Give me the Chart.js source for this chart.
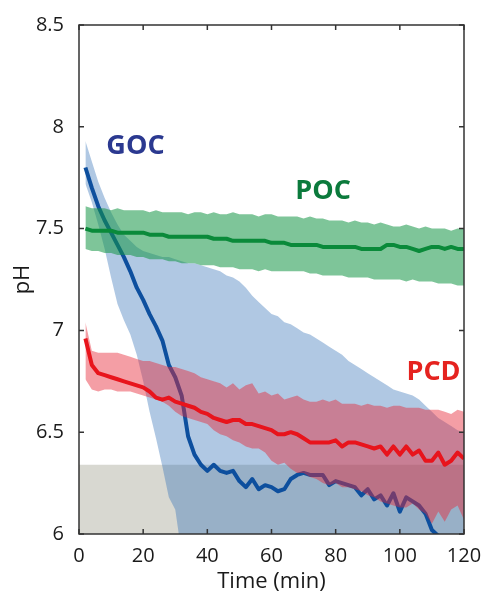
<!DOCTYPE html>
<html>
<head>
<meta charset="utf-8">
<script src="https://cdn.jsdelivr.net/npm/chart.js@4.4.0/dist/chart.umd.min.js"></script>
<style>
  body { margin: 0; background: #fff; }
  .wrap { width: 484px; height: 595px; }
</style>
</head>
<body>
<div class="wrap"><canvas id="ph-chart"></canvas></div>
<script>
// time axis (min), one sample every 2 minutes
const times = [2, 4, 6, 8, 10, 12, 14, 16, 18, 20,
  22, 24, 26, 28, 30, 32, 34, 36, 38, 40,
  42, 44, 46, 48, 50, 52, 54, 56, 58, 60,
  62, 64, 66, 68, 70, 72, 74, 76, 78, 80,
  82, 84, 86, 88, 90, 92, 94, 96, 98, 100,
  102, 104, 106, 108, 110, 112, 114, 116, 118, 120];

// GOC
const gocMean = [7.80, 7.70, 7.61, 7.54, 7.48, 7.42, 7.36, 7.29, 7.21, 7.15,
  7.08, 7.02, 6.95, 6.83, 6.77, 6.68, 6.48, 6.39, 6.34, 6.31,
  6.34, 6.31, 6.30, 6.31, 6.26, 6.23, 6.27, 6.22, 6.24, 6.23,
  6.21, 6.22, 6.27, 6.29, 6.30, 6.29, 6.29, 6.29, 6.24, 6.26,
  6.25, 6.24, 6.23, 6.19, 6.22, 6.17, 6.19, 6.14, 6.20, 6.11,
  6.18, 6.16, 6.14, 6.10, 6.02, 5.99, null, null, null, null];
const gocUpper = [7.93, 7.83, 7.73, 7.65, 7.58, 7.52, 7.47, 7.44, 7.41, 7.39,
  7.38, 7.37, 7.36, 7.36, 7.35, 7.34, 7.33, 7.33, 7.32, 7.31,
  7.30, 7.29, 7.27, 7.26, 7.24, 7.21, 7.17, 7.14, 7.11, 7.08,
  7.07, 7.04, 7.03, 7.01, 6.99, 6.98, 6.96, 6.94, 6.92, 6.90,
  6.88, 6.85, 6.83, 6.81, 6.79, 6.77, 6.75, 6.73, 6.71, 6.70,
  6.69, 6.68, 6.66, 6.63, 6.60, 6.57, 6.55, 6.53, 6.51, 6.50];
const gocLower = [7.72, 7.63, 7.52, 7.40, 7.26, 7.13, 7.05, 6.98, 6.88, 6.75,
  6.60, 6.47, 6.33, 6.18, 6.12, 5.90, 5.82, 5.78, 5.75, 5.72,
  5.70, 5.68, 5.66, 5.65, 5.64, 5.62, 5.61, 5.60, 5.60, 5.59,
  5.58, 5.57, 5.57, 5.56, 5.55, 5.55, 5.54, 5.54, 5.53, 5.53,
  5.52, 5.52, 5.51, 5.51, 5.50, 5.50, 5.50, 5.49, 5.49, 5.48,
  5.48, 5.48, 5.47, 5.47, 5.46, 5.46, 5.46, 5.45, 5.45, 5.45];

// POC
const pocMean = [7.50, 7.49, 7.49, 7.49, 7.49, 7.48, 7.48, 7.48, 7.48, 7.48,
  7.47, 7.47, 7.47, 7.46, 7.46, 7.46, 7.46, 7.46, 7.46, 7.46,
  7.45, 7.45, 7.45, 7.44, 7.44, 7.44, 7.44, 7.44, 7.44, 7.43,
  7.43, 7.43, 7.42, 7.42, 7.42, 7.42, 7.42, 7.41, 7.41, 7.41,
  7.41, 7.41, 7.41, 7.40, 7.40, 7.40, 7.40, 7.42, 7.42, 7.41,
  7.41, 7.40, 7.39, 7.40, 7.41, 7.41, 7.40, 7.41, 7.40, 7.40];
const pocUpper = [7.61, 7.60, 7.60, 7.60, 7.59, 7.60, 7.59, 7.59, 7.59, 7.59,
  7.58, 7.59, 7.58, 7.58, 7.58, 7.58, 7.57, 7.58, 7.58, 7.57,
  7.58, 7.57, 7.57, 7.58, 7.57, 7.57, 7.57, 7.56, 7.57, 7.57,
  7.56, 7.56, 7.56, 7.56, 7.55, 7.56, 7.55, 7.55, 7.54, 7.54,
  7.54, 7.53, 7.54, 7.53, 7.53, 7.52, 7.53, 7.52, 7.51, 7.51,
  7.52, 7.51, 7.50, 7.51, 7.50, 7.50, 7.50, 7.49, 7.50, 7.50];
const pocLower = [7.40, 7.39, 7.39, 7.38, 7.38, 7.37, 7.37, 7.37, 7.36, 7.36,
  7.35, 7.35, 7.35, 7.34, 7.34, 7.33, 7.33, 7.33, 7.32, 7.32,
  7.32, 7.31, 7.31, 7.31, 7.30, 7.30, 7.30, 7.29, 7.30, 7.29,
  7.29, 7.29, 7.29, 7.29, 7.29, 7.28, 7.28, 7.27, 7.27, 7.27,
  7.27, 7.26, 7.26, 7.26, 7.26, 7.25, 7.25, 7.25, 7.25, 7.25,
  7.24, 7.25, 7.24, 7.24, 7.24, 7.23, 7.23, 7.23, 7.22, 7.22];

// PCD
const pcdMean = [6.96, 6.83, 6.79, 6.78, 6.77, 6.76, 6.75, 6.74, 6.73, 6.72,
  6.70, 6.67, 6.66, 6.67, 6.65, 6.64, 6.63, 6.62, 6.60, 6.59,
  6.57, 6.56, 6.55, 6.56, 6.56, 6.54, 6.54, 6.53, 6.52, 6.51,
  6.49, 6.49, 6.50, 6.49, 6.47, 6.45, 6.45, 6.45, 6.45, 6.46,
  6.43, 6.45, 6.45, 6.44, 6.43, 6.42, 6.43, 6.39, 6.43, 6.39,
  6.43, 6.39, 6.41, 6.36, 6.36, 6.40, 6.34, 6.36, 6.40, 6.37];
const pcdUpper = [7.04, 6.90, 6.89, 6.89, 6.89, 6.89, 6.88, 6.87, 6.86, 6.85,
  6.85, 6.84, 6.83, 6.82, 6.82, 6.81, 6.80, 6.79, 6.77, 6.76,
  6.75, 6.74, 6.72, 6.74, 6.71, 6.73, 6.74, 6.69, 6.70, 6.68,
  6.69, 6.66, 6.67, 6.68, 6.66, 6.65, 6.65, 6.66, 6.65, 6.66,
  6.64, 6.64, 6.64, 6.63, 6.64, 6.63, 6.63, 6.62, 6.63, 6.63,
  6.62, 6.62, 6.62, 6.61, 6.61, 6.61, 6.60, 6.59, 6.61, 6.60];
const pcdLower = [6.76, 6.71, 6.70, 6.71, 6.71, 6.70, 6.70, 6.70, 6.69, 6.68,
  6.67, 6.66, 6.65, 6.63, 6.60, 6.58, 6.57, 6.56, 6.55, 6.54,
  6.51, 6.49, 6.48, 6.46, 6.45, 6.43, 6.42, 6.42, 6.40, 6.36,
  6.34, 6.35, 6.32, 6.30, 6.30, 6.28, 6.27, 6.25, 6.24, 6.25,
  6.23, 6.23, 6.22, 6.21, 6.19, 6.18, 6.16, 6.15, 6.14, 6.13,
  6.13, 6.15, 6.12, 6.10, 6.05, 6.11, 6.06, 6.12, 6.14, 6.07];

// grey zone under pH 6.34
const shadeTop = 6.34;
const shadeRange = [0, 120];

const xTicks = [0, 20, 40, 60, 80, 100, 120];
const yTicks = [6, 6.5, 7, 7.5, 8, 8.5];
const names = ['GOC', 'POC', 'PCD'];

const pts = arr => times.map((t, i) => ({ x: t, y: arr[i] }));

const FONT = '"Open Sans", "DejaVu Sans", sans-serif';
const INK = '#1a1a1a';

// frame with inward ticks + series names
const framePlugin = {
    id: 'frame',
    afterDatasetsDraw(chart) {
        const { ctx, chartArea: a, scales: { x, y } } = chart;
        ctx.save();
        ctx.strokeStyle = '#333';
        ctx.lineWidth = 1.5;
        ctx.strokeRect(a.left, a.top, a.right - a.left, a.bottom - a.top);
        ctx.beginPath();
        xTicks.forEach(v => {
            const px = x.getPixelForValue(v);
            ctx.moveTo(px, a.bottom); ctx.lineTo(px, a.bottom - 5);
            ctx.moveTo(px, a.top); ctx.lineTo(px, a.top + 5);
        });
        yTicks.forEach(v => {
            const py = y.getPixelForValue(v);
            ctx.moveTo(a.left, py); ctx.lineTo(a.left + 5, py);
            ctx.moveTo(a.right, py); ctx.lineTo(a.right - 5, py);
        });
        ctx.stroke();

        // names next to their curves
        const spots = [[17.6, 7.905, '#2b3990'], [76.1, 7.685, '#0b7a3c'], [110.5, 6.796, '#e5231f']];
        ctx.font = 'bold 27px ' + FONT;
        ctx.textAlign = 'center';
        ctx.textBaseline = 'middle';
        names.forEach((n, i) => {
            ctx.fillStyle = spots[i][2];
            ctx.fillText(n, x.getPixelForValue(spots[i][0]), y.getPixelForValue(spots[i][1]));
        });
        ctx.restore();
    }
};

const band = (arr, color, order, fill) => ({
    data: pts(arr), borderWidth: 0, pointRadius: 0,
    fill: fill, backgroundColor: color, order: order
});
const line = (arr, color, order) => ({
    data: pts(arr), borderColor: color, borderWidth: 4, pointRadius: 0,
    fill: false, order: order, borderJoinStyle: 'round'
});

const ctx = document.getElementById('ph-chart');

new Chart(ctx, {
    type: 'line',
    data: {
        datasets: [
            { data: shadeRange.map(t => ({ x: t, y: shadeTop })), fill: 'start',
              backgroundColor: '#d8d8d1', borderWidth: 0, pointRadius: 0, order: 10 },
            band(gocUpper, 'transparent', 9, false),
            band(gocLower, 'rgba(58,117,185,0.4)', 8, '-1'),
            line(gocMean, '#0d4f9e', 7),
            band(pocUpper, 'transparent', 6, false),
            band(pocLower, 'rgba(20,150,70,0.55)', 5, '-1'),
            line(pocMean, '#0a8a3a', 4),
            band(pcdUpper, 'transparent', 3, false),
            band(pcdLower, 'rgba(230,40,55,0.45)', 2, '-1'),
            line(pcdMean, '#e8141c', 1)
        ]
    },
    options: {
        responsive: true,
        maintainAspectRatio: false,
        animation: false,
        layout: {
            padding: { top: 25, right: 20, left: 0, bottom: 0 }
        },
        scales: {
            x: {
                type: 'linear',
                min: 0,
                max: 120,
                afterBuildTicks: s => { s.ticks = xTicks.map(v => ({ value: v })); },
                afterFit: s => { s.height = 61; },
                grid: { display: false },
                border: { display: false },
                ticks: {
                    font: { family: FONT, size: 20 },
                    color: INK,
                    padding: 2,
                    maxRotation: 0
                },
                title: {
                    display: true,
                    text: 'Time (min)',
                    font: { family: FONT, size: 22 },
                    color: INK,
                    padding: { top: 0, bottom: 0 }
                }
            },
            y: {
                min: 6,
                max: 8.5,
                afterBuildTicks: s => { s.ticks = yTicks.map(v => ({ value: v })); },
                afterFit: s => { s.width = 79; },
                grid: { display: false },
                border: { display: false },
                ticks: {
                    font: { family: FONT, size: 20 },
                    color: INK,
                    padding: 7,
                    callback: v => String(v)
                },
                title: {
                    display: true,
                    text: 'pH',
                    font: { family: FONT, size: 22 },
                    color: INK,
                    padding: { top: 10, bottom: 0 }
                }
            }
        },
        plugins: {
            legend: { display: false },
            tooltip: { enabled: false }
        }
    },
    plugins: [framePlugin]
});
</script>
</body>
</html>
